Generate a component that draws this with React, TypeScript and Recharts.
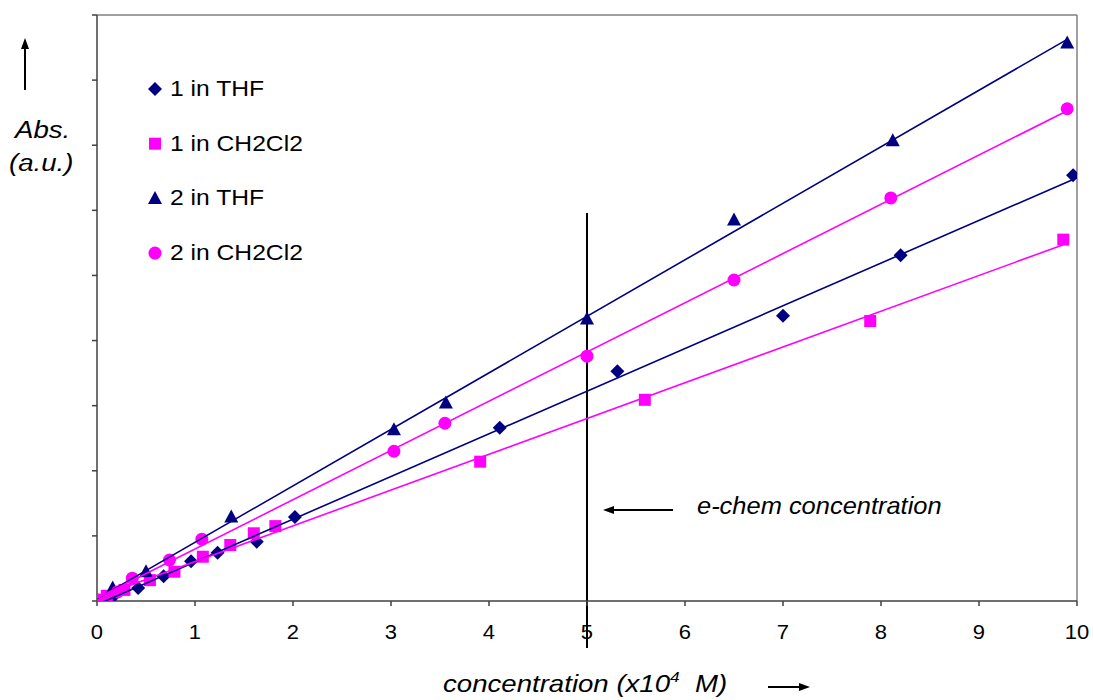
import React from "react";
import {
  ScatterChart,
  Scatter,
  XAxis,
  YAxis,
  ReferenceLine,
} from "recharts";

// ── Data (concentration x10^4 M, absorbance a.u.) ────────

const thf1X = [0, 0.16, 0.42, 0.68, 0.96, 1.23, 1.63, 2.02, 4.11, 5.31, 7.0, 8.2, 9.96];
const thf1Y = [0, 0.06, 0.2, 0.38, 0.61, 0.74, 0.91, 1.29, 2.66, 3.53, 4.38, 5.31, 6.54];

const dcm1X = [0, 0.1, 0.28, 0.54, 0.79, 1.08, 1.36, 1.6, 1.82, 3.91, 5.59, 7.89, 9.86];
const dcm1Y = [0.02, 0.08, 0.17, 0.32, 0.45, 0.68, 0.86, 1.04, 1.15, 2.14, 3.09, 4.3, 5.55];

const thf2X = [0, 0.16, 0.5, 1.37, 3.03, 3.56, 5.0, 6.5, 8.12, 9.9];
const thf2Y = [0, 0.2, 0.45, 1.29, 2.63, 3.04, 4.33, 5.85, 7.07, 8.57];

const dcm2X = [0, 0.21, 0.36, 0.74, 1.07, 3.03, 3.55, 5.0, 6.5, 8.1, 9.9];
const dcm2Y = [0.02, 0.14, 0.35, 0.63, 0.95, 2.3, 2.73, 3.76, 4.93, 6.19, 7.56];

const xTicks = [0, 1, 2, 3, 4, 5, 6, 7, 8, 9, 10];
const yTicks = [0, 1, 2, 3, 4, 5, 6, 7, 8, 9];

const ECHEM_X = 5;
const ECHEM_TOP = 5.96;
const ECHEM_BOTTOM = -0.72;

// ── Styles ───────────────────────────────────────────────

const NAVY = "#000080";
const MAGENTA = "#FF00FF";
const AXIS = "#404040";
const FONT = '"Liberation Sans", Arial, sans-serif';

// ── Helpers ──────────────────────────────────────────────

const zip = (xs: number[], ys: number[]) => xs.map((x, i) => ({ x, y: ys[i] }));

// least-squares trendline over the data's x range
function trend(xs: number[], ys: number[]) {
  const n = xs.length;
  const mx = xs.reduce((s, v) => s + v, 0) / n;
  const my = ys.reduce((s, v) => s + v, 0) / n;
  let sxy = 0;
  let sxx = 0;
  xs.forEach((x, i) => {
    sxy += (x - mx) * (ys[i] - my);
    sxx += (x - mx) * (x - mx);
  });
  const b = sxy / sxx;
  const a = my - b * mx;
  const lo = Math.min(...xs);
  const hi = Math.max(...xs);
  return [
    { x: lo, y: a + b * lo },
    { x: hi, y: a + b * hi },
  ];
}

type Marker = "diamond" | "square" | "triangle" | "circle";

function markerPath(kind: Marker, cx: number, cy: number, color: string) {
  if (kind === "diamond")
    return <path d={`M${cx},${cy - 7}L${cx + 7},${cy}L${cx},${cy + 7}L${cx - 7},${cy}Z`} fill={color} />;
  if (kind === "square")
    return <rect x={cx - 6} y={cy - 6} width={12} height={12} fill={color} />;
  if (kind === "triangle")
    return <path d={`M${cx},${cy - 7.5}L${cx + 7},${cy + 5.5}L${cx - 7},${cy + 5.5}Z`} fill={color} />;
  return <circle cx={cx} cy={cy} r={6.5} fill={color} />;
}

const SERIES: { name: string; xs: number[]; ys: number[]; color: string; marker: Marker }[] = [
  { name: "1 in THF", xs: thf1X, ys: thf1Y, color: NAVY, marker: "diamond" },
  { name: "1 in CH2Cl2", xs: dcm1X, ys: dcm1Y, color: MAGENTA, marker: "square" },
  { name: "2 in THF", xs: thf2X, ys: thf2Y, color: NAVY, marker: "triangle" },
  { name: "2 in CH2Cl2", xs: dcm2X, ys: dcm2Y, color: MAGENTA, marker: "circle" },
];

function XTick(props: any) {
  const { x, y, payload } = props;
  return (
    <text
      x={x}
      y={y + 31}
      textAnchor="middle"
      fontFamily={FONT}
      fill="#000"
      style={{ fontSize: 20 }}
      transform={`translate(${x},0) scale(1.1,1) translate(${-x},0)`}
    >
      {payload.value}
    </text>
  );
}

function Arrow({ x1, y1, x2, y2 }: { x1: number; y1: number; x2: number; y2: number }) {
  const ang = Math.atan2(y2 - y1, x2 - x1);
  const L = 11;
  const W = 4;
  const bx = x2 - L * Math.cos(ang);
  const by = y2 - L * Math.sin(ang);
  const px = -Math.sin(ang) * W;
  const py = Math.cos(ang) * W;
  return (
    <g>
      <line x1={x1} y1={y1} x2={bx} y2={by} stroke="#000" strokeWidth={2} />
      <path d={`M${x2},${y2}L${bx + px},${by + py}L${bx - px},${by - py}Z`} fill="#000" />
    </g>
  );
}

const label = (left: number, top: number, size: number, extra: React.CSSProperties = {}) =>
  ({
    position: "absolute",
    left,
    top,
    fontFamily: FONT,
    fontSize: size,
    lineHeight: 1,
    whiteSpace: "nowrap",
    color: "#000",
    transformOrigin: "left center",
    ...extra,
  }) as React.CSSProperties;

export default function App() {
  return (
    <div style={{ position: "absolute", left: 0, top: 0, width: 1093, height: 700, background: "#fff" }}>
      <ScatterChart width={1093} height={700} margin={{ top: 15, right: 16, bottom: 59, left: 87 }}>
        <XAxis
          type="number"
          dataKey="x"
          domain={[0, 10]}
          ticks={xTicks}
          allowDataOverflow
          height={40}
          tickSize={5}
          stroke={AXIS}
          strokeWidth={1.5}
          tick={<XTick />}
        />
        <YAxis
          type="number"
          dataKey="y"
          domain={[0, 9]}
          ticks={yTicks}
          allowDataOverflow
          width={10}
          tickSize={5}
          stroke={AXIS}
          strokeWidth={1.5}
          tickFormatter={() => ""}
        />
        <ReferenceLine y={9} stroke="#808080" strokeWidth={1.5} />
        <ReferenceLine x={10} stroke="#808080" strokeWidth={1.5} />

        {SERIES.map((s) => (
          <Scatter
            key={s.name}
            name={s.name}
            data={zip(s.xs, s.ys)}
            fill={s.color}
            isAnimationActive={false}
            shape={(p: any) => markerPath(s.marker, p.cx, p.cy, s.color)}
          />
        ))}
        {SERIES.map((s) => (
          <Scatter
            key={s.name + "-fit"}
            data={trend(s.xs, s.ys)}
            line={{ stroke: s.color, strokeWidth: 1.6 }}
            shape={() => <g />}
            legendType="none"
            isAnimationActive={false}
          />
        ))}

        <ReferenceLine
          segment={[
            { x: ECHEM_X, y: ECHEM_TOP },
            { x: ECHEM_X, y: ECHEM_BOTTOM },
          ]}
          stroke="#000"
          strokeWidth={2}
          ifOverflow="visible"
        />
      </ScatterChart>

      {/* arrows and legend markers */}
      <svg width={1093} height={700} style={{ position: "absolute", left: 0, top: 0, pointerEvents: "none" }}>
        <Arrow x1={25} y1={90} x2={25} y2={38} />
        <Arrow x1={673} y1={510} x2={603} y2={510} />
        <Arrow x1={768} y1={687} x2={810} y2={687} />
        {SERIES.map((s, i) => (
          <g key={s.name}>{markerPath(s.marker, 155, 89 + i * 54.7, s.color)}</g>
        ))}
      </svg>

      {/* legend text */}
      {SERIES.map((s, i) => (
        <div key={s.name} style={label(170, 89 + i * 54.7 - 11, 22, { transform: "scaleX(1.12)" })}>
          {s.name}
        </div>
      ))}

      {/* y title */}
      <div style={label(15, 119, 23, { fontStyle: "italic", transform: "scaleX(1.2)" })}>Abs.</div>
      <div style={label(9, 152, 23, { fontStyle: "italic", transform: "scaleX(1.2)" })}>(a.u.)</div>

      {/* annotation */}
      <div style={label(697, 494, 24, { fontStyle: "italic", transform: "scaleX(1.06)" })}>
        e-chem concentration
      </div>

      {/* x title */}
      <div style={label(443, 672, 24, { fontStyle: "italic", transform: "scaleX(1.15)" })}>
        concentration (x10<sup style={{ fontSize: 15, verticalAlign: "top", position: "relative", top: -3 }}>4</sup>
        {"\u00a0 "}M)
      </div>
    </div>
  );
}
